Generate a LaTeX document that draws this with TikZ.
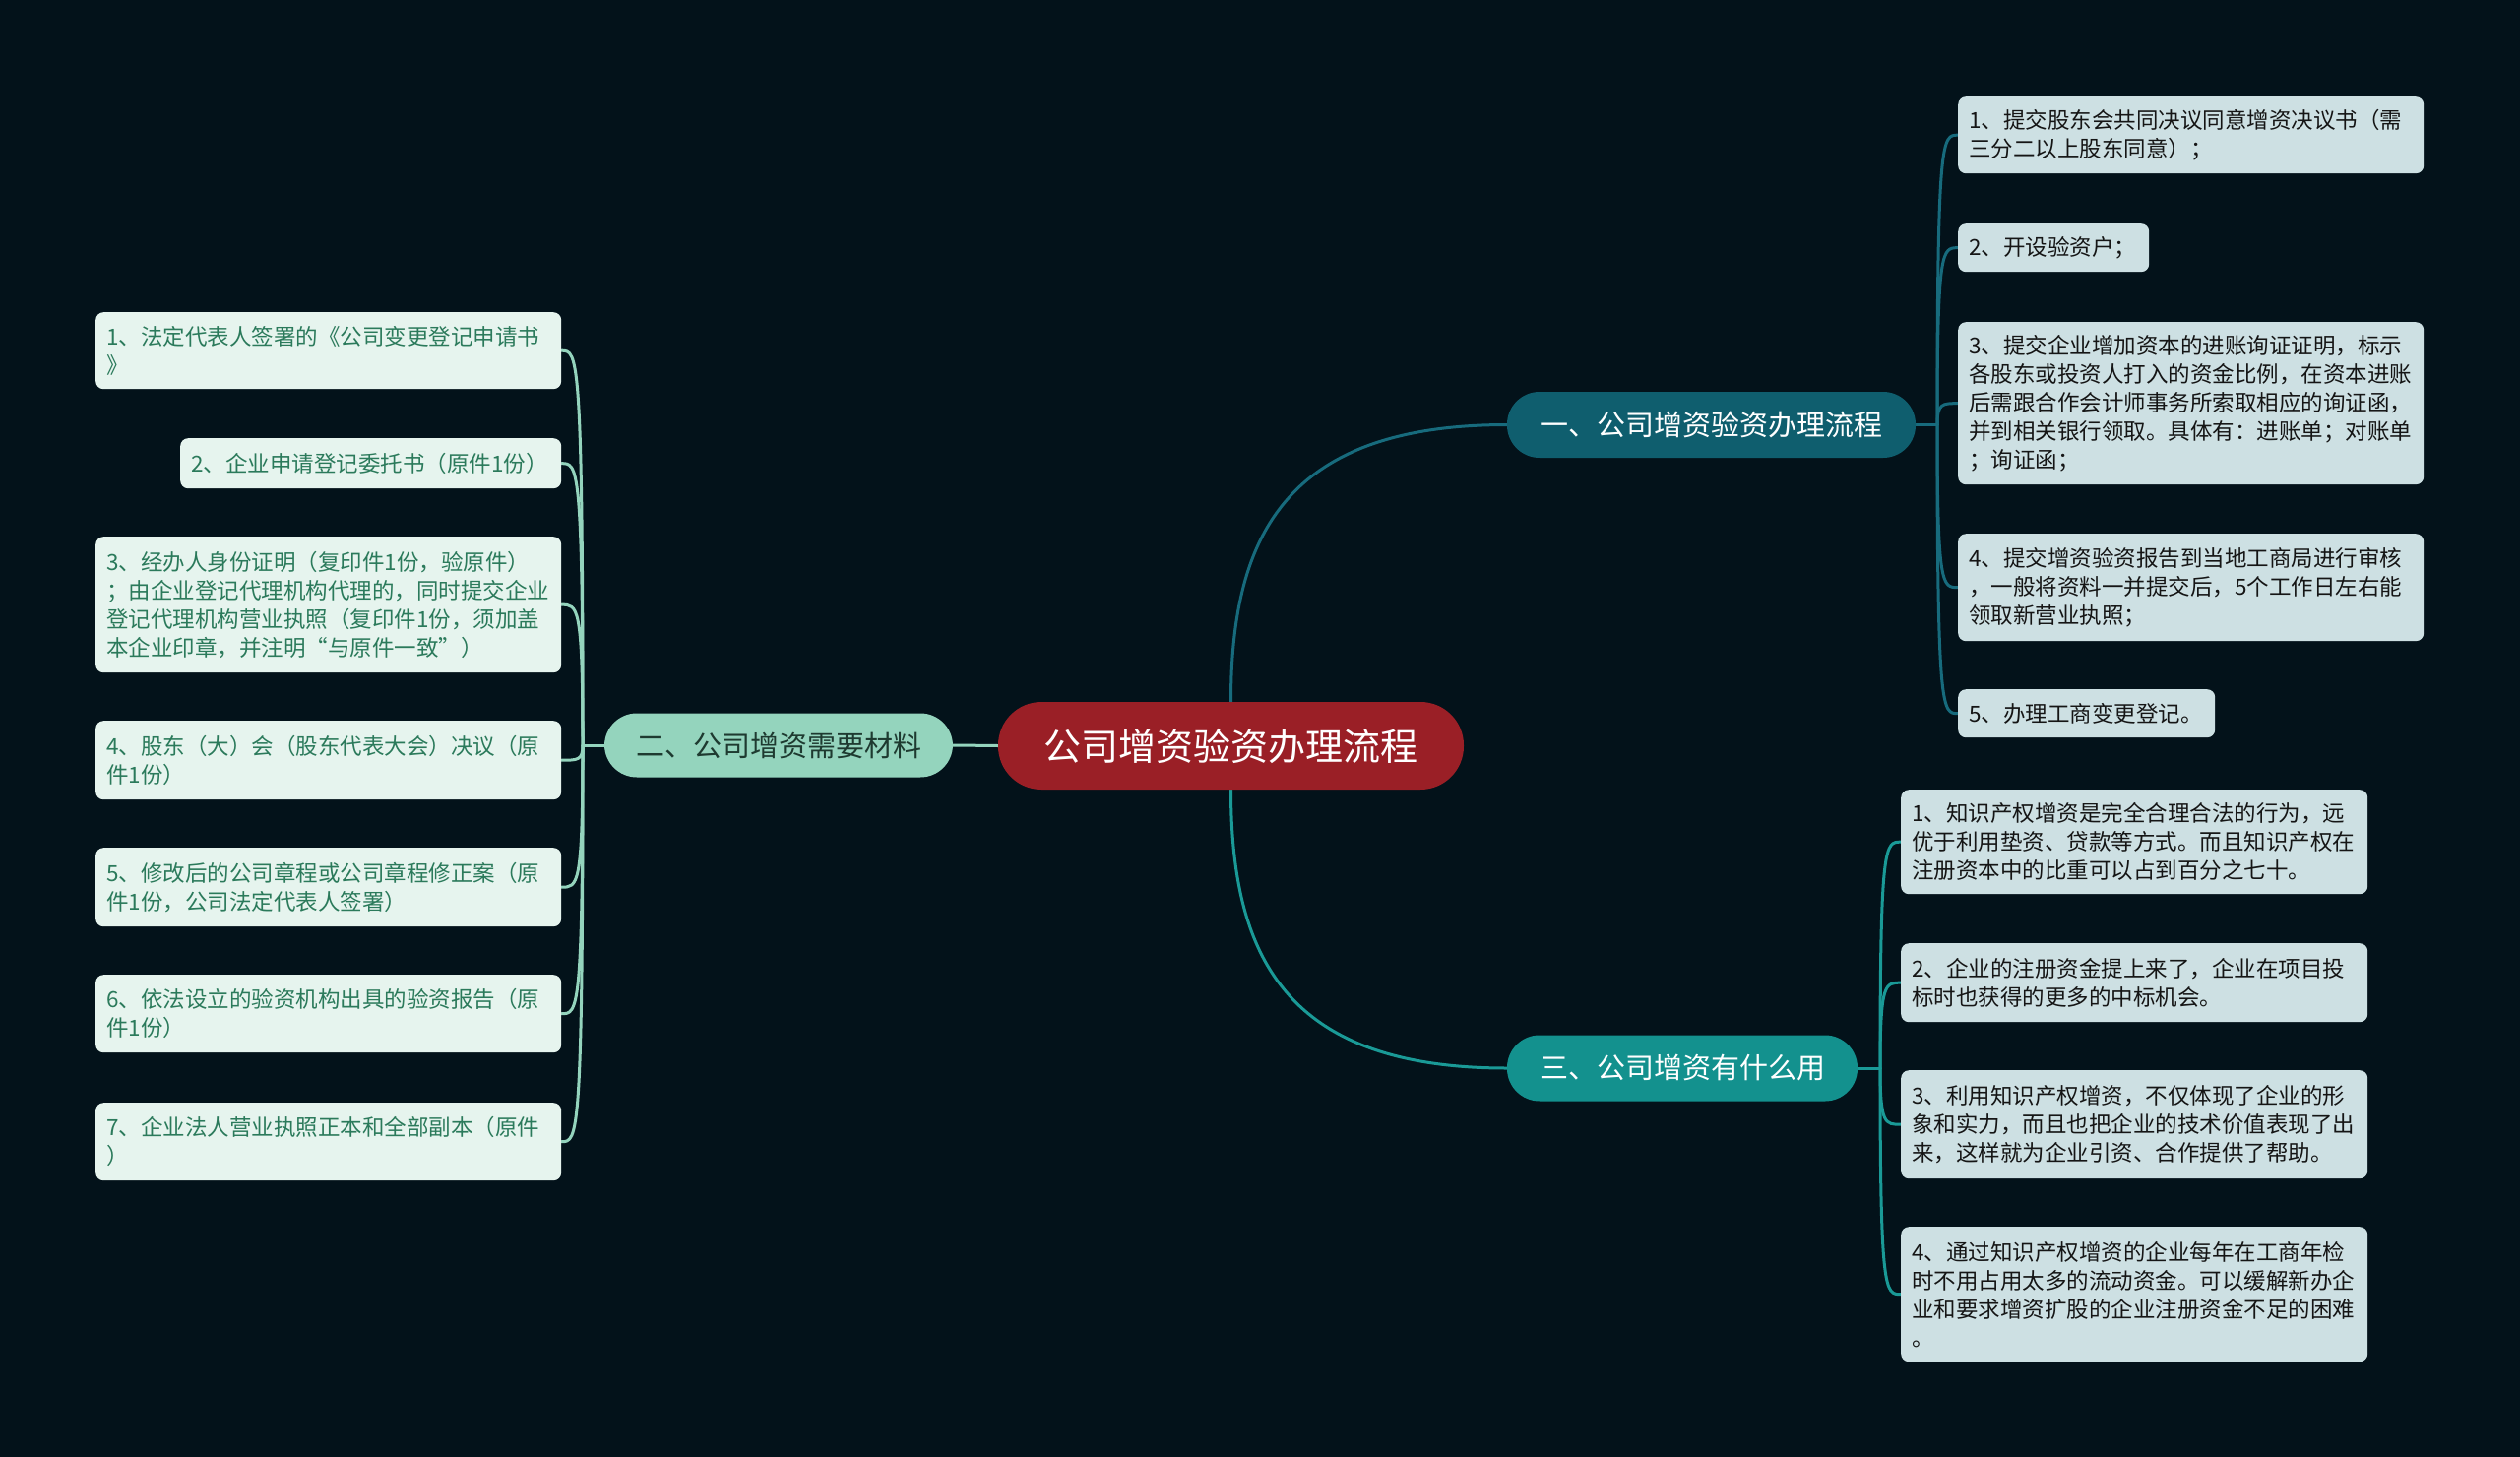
\documentclass[tikz,border=0pt]{standalone}
\usepackage{fontspec}
\setmainfont{Noto Sans CJK SC}
\usetikzlibrary{calc}
\definecolor{bgc}{HTML}{03121A}
\definecolor{rootred}{HTML}{9A1F26}
\definecolor{bonefill}{HTML}{0F5E6E}
\definecolor{boneline}{HTML}{176B7D}
\definecolor{bthreefill}{HTML}{13918E}
\definecolor{bthreeline}{HTML}{1A9A97}
\definecolor{btwofill}{HTML}{94D4BD}
\definecolor{btwotext}{HTML}{1E3A30}
\definecolor{leafrfill}{HTML}{CDE0E3}
\definecolor{leafrtext}{HTML}{151515}
\definecolor{leaflfill}{HTML}{E6F4EE}
\definecolor{leafltext}{HTML}{2B7A5B}
\pgfdeclarelayer{back}
\pgfdeclarelayer{lines}
\pgfsetlayers{back,lines,main}
\begin{document}
\begin{tikzpicture}[x=1pt,y=-1pt,
  rootbox/.style={fill=rootred,text=white,rounded corners=44pt,minimum width=473pt,minimum height=89pt,inner sep=0pt,font=\fontsize{38}{44}\selectfont},
  branchbox/.style={rounded corners=33pt,minimum height=67pt,inner sep=0pt,font=\fontsize{29}{34}\selectfont},
  leafbase/.style={rounded corners=8pt,anchor=north west,align=left,inner xsep=11pt,inner ysep=0pt,font=\fontsize{22.5}{29}\selectfont},
  leafr/.style={leafbase,fill=leafrfill,text=leafrtext},
  leafl/.style={leafbase,fill=leaflfill,text=leafltext},
  conn/.style={line width=3pt,line cap=round},
  cone/.style={conn,draw=boneline},
  cthree/.style={conn,draw=bthreeline},
  ctwo/.style={conn,draw=btwofill}]
\begin{pgfonlayer}{back}
\fill[bgc] (0,0) rectangle (2560,1480);
\end{pgfonlayer}
\useasboundingbox (0,0) rectangle (2560,1480);

% root and branches
\node[rootbox] (root) at (1250.5,757.5) {公司增资验资办理流程};
\node[branchbox,fill=bonefill,text=white,minimum width=415pt] (b1) at (1738.5,431.5) {一、公司增资验资办理流程};
\node[branchbox,fill=btwofill,text=btwotext,minimum width=354pt,minimum height=65pt] (b2) at (791,757) {二、公司增资需要材料};
\node[branchbox,fill=bthreefill,text=white,minimum width=356pt] (b3) at (1709,1085) {三、公司增资有什么用};

% branch 1 leaves
\node[leafr,text width=451pt,minimum width=473pt,minimum height=78pt] (l1) at (1989,98) {1、提交股东会共同决议同意增资决议书（需\\三分二以上股东同意）；};
\node[leafr,text width=172pt,minimum width=194pt,minimum height=49pt] (l2) at (1989,227) {2、开设验资户；};
\node[leafr,text width=451pt,minimum width=473pt,minimum height=165pt] (l3) at (1989,327) {3、提交企业增加资本的进账询证证明，标示\\各股东或投资人打入的资金比例，在资本进账\\后需跟合作会计师事务所索取相应的询证函，\\并到相关银行领取。具体有：进账单；对账单\\；询证函；};
\node[leafr,text width=451pt,minimum width=473pt,minimum height=109pt] (l4) at (1989,542) {4、提交增资验资报告到当地工商局进行审核\\，一般将资料一并提交后，5个工作日左右能\\领取新营业执照；};
\node[leafr,text width=239pt,minimum width=261pt,minimum height=49pt] (l5) at (1989,700) {5、办理工商变更登记。};

% branch 3 leaves
\node[leafr,text width=452pt,minimum width=474pt,minimum height=106pt] (m1) at (1931,802) {1、知识产权增资是完全合理合法的行为，远\\优于利用垫资、贷款等方式。而且知识产权在\\注册资本中的比重可以占到百分之七十。};
\node[leafr,text width=452pt,minimum width=474pt,minimum height=80pt] (m2) at (1931,958) {2、企业的注册资金提上来了，企业在项目投\\标时也获得的更多的中标机会。};
\node[leafr,text width=452pt,minimum width=474pt,minimum height=110pt] (m3) at (1931,1087) {3、利用知识产权增资，不仅体现了企业的形\\象和实力，而且也把企业的技术价值表现了出\\来，这样就为企业引资、合作提供了帮助。};
\node[leafr,text width=452pt,minimum width=474pt,minimum height=137pt] (m4) at (1931,1246) {4、通过知识产权增资的企业每年在工商年检\\时不用占用太多的流动资金。可以缓解新办企\\业和要求增资扩股的企业注册资金不足的困难\\。};

% branch 2 leaves
\node[leafl,text width=451pt,minimum width=473pt,minimum height=78pt] (n1) at (97,317) {1、法定代表人签署的《公司变更登记申请书\\》};
\node[leafl,text width=365pt,minimum width=387pt,minimum height=51pt] (n2) at (183,445) {2、企业申请登记委托书（原件1份）};
\node[leafl,text width=451pt,minimum width=473pt,minimum height=138pt] (n3) at (97,545) {3、经办人身份证明（复印件1份，验原件）\\；由企业登记代理机构代理的，同时提交企业\\登记代理机构营业执照（复印件1份，须加盖\\本企业印章，并注明“与原件一致”）};
\node[leafl,text width=451pt,minimum width=473pt,minimum height=80pt] (n4) at (97,732) {4、股东（大）会（股东代表大会）决议（原\\件1份）};
\node[leafl,text width=451pt,minimum width=473pt,minimum height=80pt] (n5) at (97,861) {5、修改后的公司章程或公司章程修正案（原\\件1份，公司法定代表人签署）};
\node[leafl,text width=451pt,minimum width=473pt,minimum height=79pt] (n6) at (97,990) {6、依法设立的验资机构出具的验资报告（原\\件1份）};
\node[leafl,text width=451pt,minimum width=473pt,minimum height=79pt] (n7) at (97,1120) {7、企业法人营业执照正本和全部副本（原件\\）};

\coordinate (s1) at (1968,431.5);
\coordinate (s2) at (592,757);
\coordinate (s3) at (1910,1085);

\begin{pgfonlayer}{lines}
\draw[cone] (root.north) .. controls (1250.5,544) and (1306,431.5) .. (b1.west);
\draw[cthree] (root.south) .. controls (1250.5,972) and (1306,1085) .. (b3.west);
\draw[ctwo] (root.west) -- (b2.east);

\draw[cone] (b1.east) -- (s1);
\foreach \n in {l1,l2,l3,l4,l5}
  \draw[cone] (s1) .. controls (s1 |- \n.west) and ($(s1 |- \n.west)+(5,0)$) .. (\n.west);
\draw[cthree] (b3.east) -- (s3);
\foreach \n in {m1,m2,m3,m4}
  \draw[cthree] (s3) .. controls (s3 |- \n.west) and ($(s3 |- \n.west)+(5,0)$) .. (\n.west);
\draw[ctwo] (b2.west) -- (s2);
\foreach \n in {n1,n2,n3,n4,n5,n6,n7}
  \draw[ctwo] (s2) .. controls (s2 |- \n.east) and ($(s2 |- \n.east)+(-5,0)$) .. (\n.east);
\end{pgfonlayer}
\end{tikzpicture}
\end{document}
